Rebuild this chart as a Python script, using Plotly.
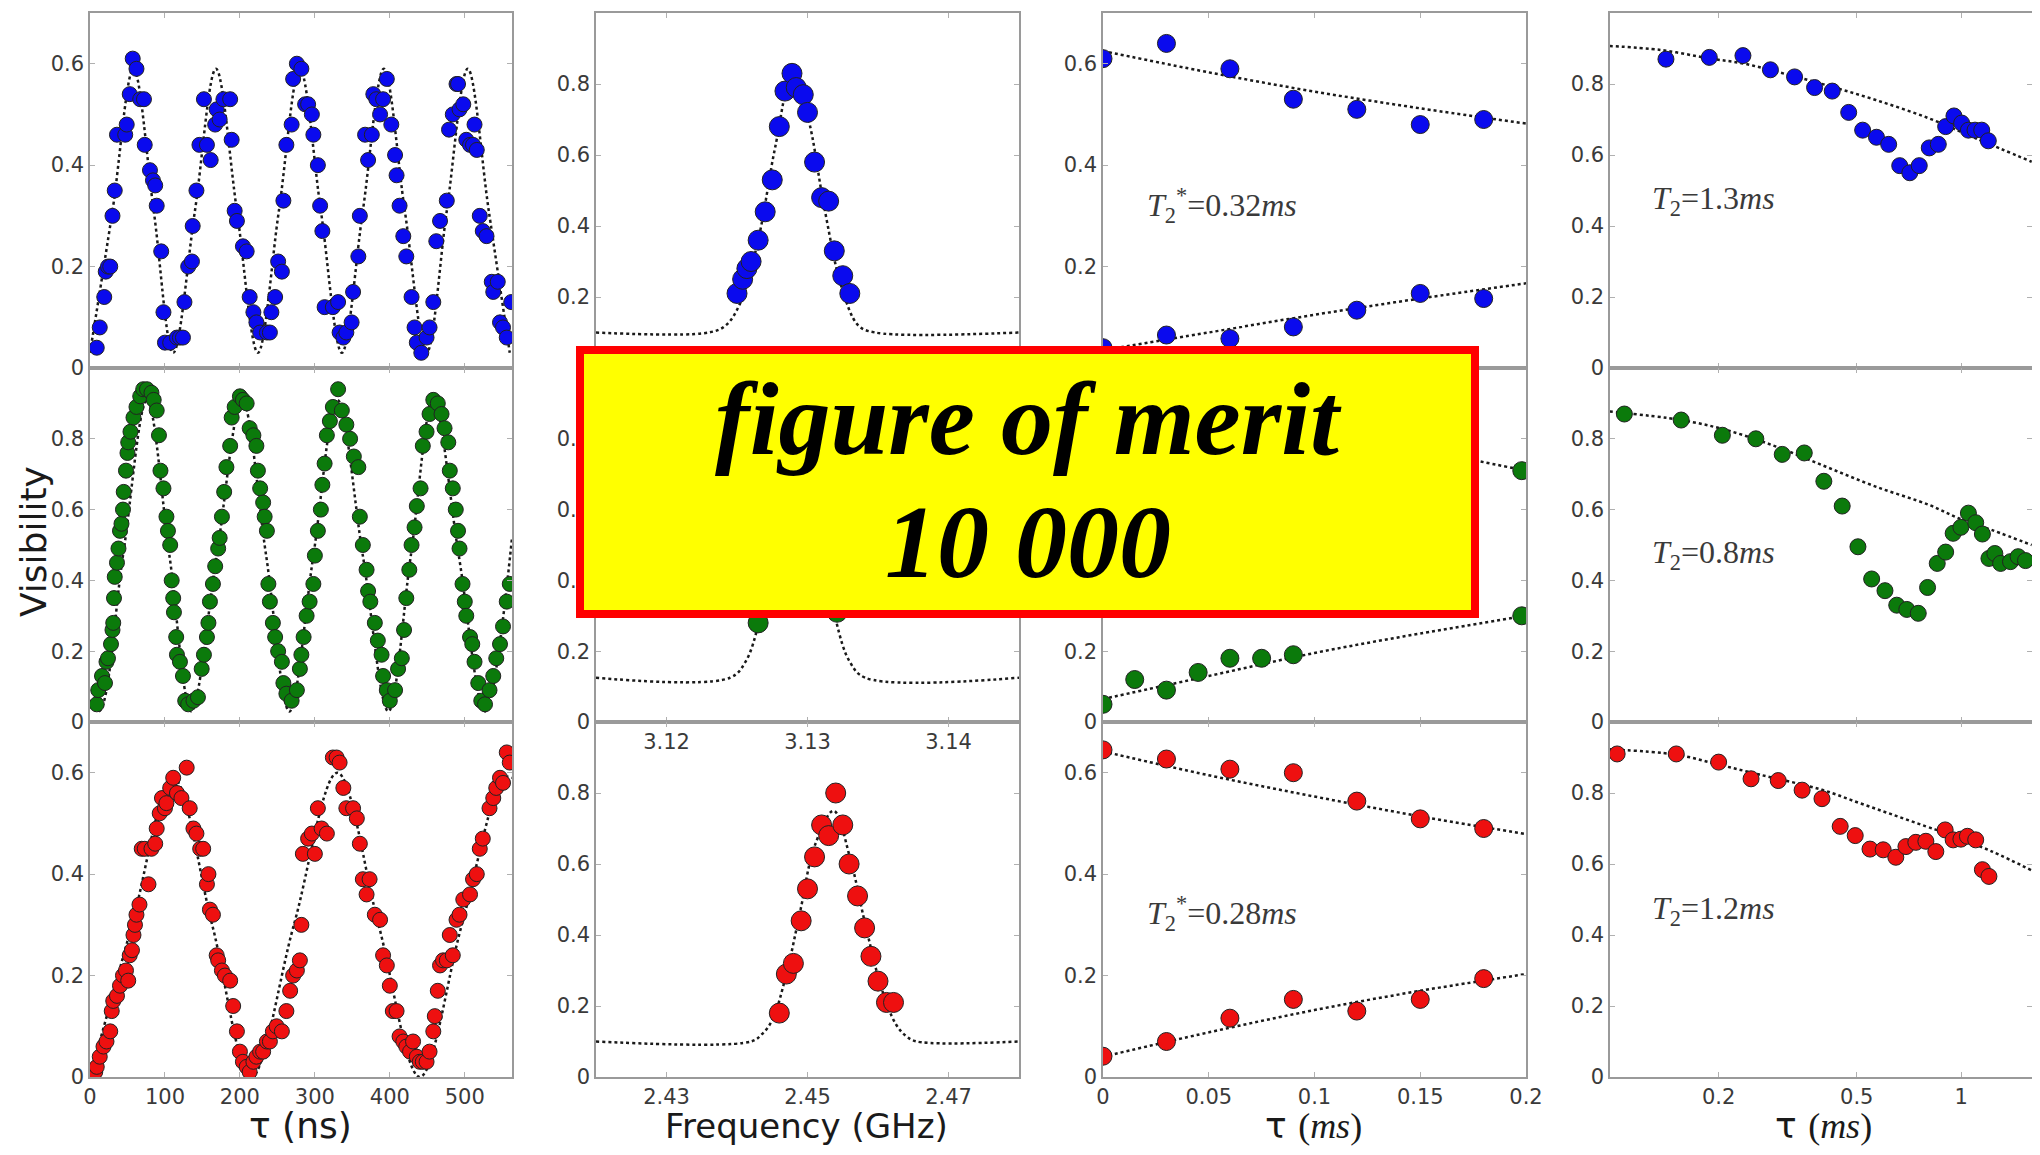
import plotly.graph_objects as go
from plotly.subplots import make_subplots

PAGE_W, PAGE_H = 2040, 1155
BODY = 8                      # default page margin around the figure div
FW, FH = PAGE_W - 2 * BODY, PAGE_H - 2 * BODY

def clamp(v):
    return max(0.0, min(1.0, v))

def PX(px):
    return (px - BODY) / FW

def PY(py):
    return 1 - (py - BODY) / FH

# ---------------- column 1 : Rabi oscillations (tau in ns) ----------------
rabi_blue_t = [9,13,19,21,24,27,30,33,36,47,
               49,53,57,62,67,72,73,80,84,87,
               89,95,98,100,107,116,120,124,126,131,
               136,137,142,146,152,156,161,167,169,173,
               178,187,189,193,196,204,209,213,218,222,
               227,236,240,242,247,251,256,258,262,269,
               271,276,282,287,291,296,298,304,307,310,
               313,324,331,333,338,342,349,351,358,360,
               367,371,376,378,382,387,391,396,402,407,
               409,413,418,422,429,433,436,442,449,453,
               458,462,467,476,479,484,489,491,493,498,
               502,507,511,513,516,520,524,529,536,538,
               544,547,551,556,562]
rabi_blue_v = [0.04,0.08,0.14,0.19,0.20,0.20,0.30,0.35,0.46,0.46,
               0.48,0.54,0.61,0.59,0.53,0.53,0.44,0.39,0.37,0.36,
               0.32,0.23,0.11,0.05,0.05,0.06,0.06,0.06,0.13,0.20,
               0.21,0.28,0.35,0.44,0.53,0.44,0.41,0.48,0.51,0.49,
               0.53,0.53,0.45,0.31,0.29,0.24,0.23,0.14,0.11,0.09,
               0.07,0.07,0.07,0.11,0.14,0.21,0.19,0.33,0.44,0.48,
               0.57,0.60,0.59,0.52,0.52,0.50,0.46,0.40,0.32,0.27,
               0.12,0.12,0.13,0.07,0.06,0.07,0.09,0.15,0.22,0.30,
               0.46,0.41,0.46,0.54,0.53,0.50,0.53,0.57,0.48,0.42,
               0.38,0.32,0.26,0.22,0.14,0.08,0.05,0.03,0.06,0.08,
               0.13,0.25,0.29,0.33,0.47,0.50,0.56,0.56,0.51,0.52,
               0.45,0.44,0.44,0.48,0.43,0.30,0.27,0.26,0.17,0.15,
               0.17,0.09,0.08,0.06,0.13]
rabi_blue_fit_t = [0,30,58,85,111,140,168,196,224,252,280,308,336,364,392,420,449,476,504,532,560]
rabi_blue_fit_v = [0.03,0.31,0.59,0.31,0.03,0.31,0.59,0.31,0.03,0.31,0.59,0.31,0.03,0.31,0.59,0.31,0.03,0.31,0.59,0.31,0.03]

rabi_green_t = [9,11,16,20,22,24,28,30,31,32,
                33,36,38,40,42,44,45,48,50,51,
                54,58,62,67,71,76,82,85,89,92,
                94,98,102,104,107,109,111,112,115,116,
                120,124,127,131,138,144,149,152,156,158,
                160,164,167,171,173,176,179,182,187,189,
                193,200,204,209,213,218,222,224,227,231,
                233,236,238,240,244,247,251,256,258,262,
                269,276,280,282,285,289,293,298,300,304,
                308,310,313,316,320,324,331,336,342,347,
                352,358,360,364,369,371,374,380,384,389,
                391,396,400,407,411,416,419,422,426,429,
                433,436,441,444,449,453,458,464,469,473,
                478,480,484,488,491,493,497,500,502,507,
                510,513,518,522,527,533,538,542,547,551,
                556,560]
rabi_green_v = [0.05,0.09,0.13,0.11,0.17,0.18,0.22,0.26,0.28,0.35,
                0.41,0.45,0.49,0.54,0.56,0.60,0.65,0.71,0.76,0.79,
                0.82,0.86,0.89,0.92,0.94,0.94,0.93,0.91,0.88,0.81,
                0.71,0.66,0.58,0.54,0.50,0.40,0.35,0.31,0.24,0.19,
                0.17,0.13,0.06,0.05,0.06,0.07,0.15,0.19,0.24,0.28,
                0.34,0.39,0.44,0.49,0.52,0.58,0.65,0.72,0.78,0.86,
                0.89,0.92,0.91,0.90,0.83,0.81,0.78,0.71,0.66,0.62,
                0.58,0.54,0.39,0.34,0.28,0.24,0.20,0.17,0.11,0.08,
                0.06,0.09,0.15,0.19,0.24,0.30,0.34,0.39,0.47,0.54,
                0.60,0.67,0.73,0.81,0.85,0.89,0.94,0.88,0.84,0.80,
                0.75,0.72,0.58,0.50,0.43,0.37,0.34,0.28,0.23,0.19,
                0.13,0.09,0.06,0.09,0.15,0.18,0.26,0.35,0.43,0.50,
                0.55,0.61,0.66,0.78,0.82,0.87,0.91,0.90,0.87,0.83,
                0.79,0.71,0.66,0.60,0.54,0.49,0.39,0.34,0.30,0.24,
                0.22,0.17,0.11,0.06,0.05,0.09,0.13,0.18,0.22,0.27,
                0.34,0.39]
rabi_green_fit_t = [0,12,44,76,106,135,169,203,235,266,298,330,364,398,428,458,492,527,563]
rabi_green_fit_v = [0.05,0.03,0.47,0.91,0.47,0.03,0.47,0.91,0.47,0.03,0.47,0.91,0.47,0.03,0.47,0.91,0.47,0.03,0.52]

rabi_red_t = [2,7,9,13,18,22,27,29,31,36,
              40,44,48,51,53,56,58,60,62,66,
              69,73,78,82,87,89,93,96,100,102,
              107,111,116,122,129,133,138,142,147,151,
              156,158,160,164,169,171,176,180,187,191,
              196,200,204,209,213,218,222,227,231,236,
              240,244,249,256,262,267,271,276,280,282,
              284,291,296,300,304,309,316,324,329,333,
              338,342,351,356,360,364,369,373,380,387,
              391,396,400,404,409,413,418,422,427,431,
              436,440,444,449,453,458,460,464,467,471,
              476,480,484,489,493,498,507,511,516,520,
              524,533,538,542,547,551,556,560]
rabi_red_v = [0.01,0.01,0.02,0.04,0.06,0.07,0.09,0.13,0.15,0.16,
              0.18,0.20,0.21,0.19,0.24,0.25,0.28,0.30,0.32,0.34,
              0.45,0.45,0.38,0.45,0.46,0.49,0.52,0.55,0.53,0.54,
              0.57,0.59,0.56,0.55,0.61,0.53,0.49,0.48,0.45,0.45,
              0.38,0.40,0.33,0.32,0.24,0.23,0.21,0.20,0.19,0.14,
              0.09,0.05,0.03,0.02,0.01,0.03,0.04,0.05,0.05,0.07,
              0.07,0.09,0.10,0.09,0.13,0.17,0.20,0.21,0.23,0.30,
              0.44,0.47,0.48,0.44,0.53,0.49,0.48,0.63,0.63,0.62,
              0.57,0.53,0.53,0.51,0.46,0.39,0.36,0.39,0.32,0.31,
              0.24,0.22,0.18,0.13,0.13,0.08,0.07,0.06,0.05,0.07,
              0.04,0.03,0.03,0.03,0.05,0.09,0.12,0.17,0.22,0.23,
              0.23,0.28,0.24,0.31,0.32,0.35,0.36,0.39,0.40,0.45,
              0.47,0.53,0.55,0.57,0.59,0.58,0.64,0.62]
rabi_red_fit_t = [0,56,111,163,215,272,330,385,440,496,552,563]
rabi_red_fit_v = [0.0,0.30,0.59,0.30,0.0,0.30,0.60,0.30,0.0,0.30,0.59,0.59]

# ---------------- column 2 : ODMR spectra (GHz) ----------------
odmr_blue_f = [2.8650,2.8654,2.8657,2.8660,2.8665,2.8670,2.8675,2.8680,2.8684,2.8689,
               2.8692,2.8697,2.8700,2.8705,2.8710,2.8715,2.8719,2.8725,2.8730]
odmr_blue_v = [0.21,0.25,0.28,0.30,0.36,0.44,0.53,0.68,0.78,0.83,
               0.79,0.77,0.72,0.58,0.48,0.47,0.33,0.26,0.21]
odmr_blue_fit_f = [2.8550,2.8630,2.8642,2.8652,2.8665,2.8677,2.8689,2.8700,2.8712,2.8724,2.8736,2.8748,2.8850]
odmr_blue_fit_v = [0.10,0.10,0.12,0.18,0.36,0.62,0.82,0.71,0.45,0.23,0.12,0.10,0.10]

odmr_green_f = [3.1265,3.1272,3.1278,3.1284,3.1289,3.1294,3.1299,3.1304,3.1310,3.1316,3.1321]
odmr_green_v = [0.28,0.42,0.57,0.71,0.82,0.85,0.80,0.66,0.52,0.40,0.31]
odmr_green_fit_f = [3.1150,3.1245,3.1256,3.1266,3.1280,3.1293,3.1306,3.1320,3.1330,3.1341,3.1450]
odmr_green_fit_v = [0.125,0.125,0.17,0.29,0.62,0.85,0.62,0.29,0.17,0.125,0.125]

odmr_red_f = [2.4460,2.4470,2.4480,2.4491,2.4500,2.4510,2.4520,2.4530,2.4540,2.4550,
              2.4559,2.4571,2.4581,2.4590,2.4600,2.4612,2.4622]
odmr_red_v = [0.18,0.29,0.32,0.44,0.53,0.62,0.71,0.68,0.80,0.71,
              0.60,0.51,0.42,0.34,0.27,0.21,0.21]
odmr_red_fit_f = [2.4200,2.4420,2.4435,2.4450,2.4470,2.4490,2.4510,2.4537,2.4560,2.4582,2.4605,2.4625,2.4640,2.4655,2.4800]
odmr_red_fit_v = [0.10,0.10,0.12,0.16,0.29,0.47,0.65,0.75,0.62,0.43,0.25,0.15,0.115,0.10,0.10]

# ---------------- column 3 : Ramsey (tau in ms) ----------------
ramsey_t = [0,0.03,0.06,0.09,0.12,0.15,0.18]
ramsey_blue_up = [0.61,0.64,0.59,0.53,0.51,0.48,0.49]
ramsey_blue_lo = [0.04,0.065,0.058,0.081,0.114,0.147,0.137]
ramsey_red_up = [0.645,0.627,0.607,0.60,0.544,0.509,0.49]
ramsey_red_lo = [0.041,0.07,0.116,0.153,0.13,0.153,0.194]
ramsey_green_t = [0,0.015,0.03,0.045,0.06,0.075,0.09,0.198]
ramsey_green_up = [0.93,0.88,0.90,0.85,0.83,0.84,0.80,0.71]
ramsey_green_lo = [0.05,0.12,0.09,0.14,0.18,0.18,0.19,0.30]
ramsey_fit_t = [0,0.05,0.1,0.15,0.2]
ramsey_blue_fit_up = [0.625,0.583,0.545,0.512,0.482]
ramsey_blue_fit_lo = [0.035,0.07,0.105,0.137,0.167]
ramsey_green_fit_up = [0.93,0.88,0.83,0.77,0.71]
ramsey_green_fit_lo = [0.065,0.13,0.195,0.25,0.30]
ramsey_red_fit_up = [0.642,0.595,0.553,0.514,0.479]
ramsey_red_fit_lo = [0.04,0.088,0.132,0.17,0.203]

# ---------------- column 4 : Hahn echo (tau in ms, log) ----------------
echo_blue_t = [0.141,0.188,0.235,0.282,0.331,0.378,0.425,0.474,0.520,0.570,0.618,0.665,
               0.711,0.757,0.809,0.859,0.902,0.953,1.003,1.049,1.096,1.146,1.197]
echo_blue_v = [0.87,0.875,0.88,0.84,0.82,0.79,0.78,0.72,0.67,0.65,0.63,0.57,
               0.55,0.57,0.62,0.63,0.68,0.71,0.69,0.67,0.67,0.67,0.64]
echo_blue_fit_t = [0.097,0.136,0.188,0.235,0.293,0.408,0.567,0.809,1.101,1.596]
echo_blue_fit_v = [0.907,0.896,0.872,0.858,0.835,0.797,0.755,0.703,0.647,0.581]

echo_green_t = [0.107,0.156,0.205,0.256,0.305,0.353,0.402,0.454,0.504,0.552,0.603,0.652,0.697,0.752,
                0.800,0.853,0.902,0.948,0.998,1.049,1.101,1.151,1.202,1.250,1.299,1.387,1.459,1.532]
echo_green_v = [0.87,0.853,0.81,0.80,0.756,0.76,0.68,0.61,0.495,0.404,0.371,0.33,0.318,0.307,
                0.38,0.448,0.48,0.533,0.55,0.59,0.563,0.531,0.462,0.476,0.448,0.453,0.467,0.456]
echo_green_fit_t = [0.097,0.156,0.210,0.293,0.408,0.567,0.809,0.986,1.228,1.596]
echo_green_fit_v = [0.877,0.853,0.825,0.778,0.721,0.665,0.613,0.575,0.542,0.50]

echo_red_t = [0.102,0.151,0.200,0.248,0.297,0.348,0.397,0.448,0.495,0.546,0.596,0.648,
              0.693,0.740,0.791,0.845,0.899,0.948,0.998,1.042,1.101,1.151,1.202]
echo_red_v = [0.91,0.91,0.887,0.84,0.835,0.808,0.784,0.706,0.68,0.642,0.64,0.619,
              0.649,0.661,0.664,0.635,0.696,0.668,0.67,0.678,0.668,0.584,0.565]
echo_red_fit_t = [0.097,0.151,0.200,0.262,0.397,0.508,0.634,0.791,0.902,1.228,1.596]
echo_red_fit_v = [0.923,0.908,0.880,0.852,0.809,0.772,0.739,0.706,0.687,0.635,0.582]

# ---------------- labels ----------------
y_tick_short = [0, 0.2, 0.4, 0.6]
y_tick_long = [0, 0.2, 0.4, 0.6, 0.8]
ns_ticks = [0, 100, 200, 300, 400, 500]
ms_ticks = [0, 0.05, 0.1, 0.15, 0.2]
ms_ticktext = ["0", "0.05", "0.1", "0.15", "0.2"]
echo_ticks = [0.2, 0.5, 1]
f_ticks_mid = [3.12, 3.13, 3.14]
f_ticks_bot = [2.43, 2.45, 2.47]
t2_labels = ["0.32", "0.28"]
echo_labels = ["1.3", "0.8", "1.2"]
box_lines = ["figure of merit", "10 000"]

BLUE, GREEN, RED = "#0a0aee", "#0b7a0b", "#ee1010"
FIT = "#1a1a1a"

col_px = [(90, 512), (596, 1019), (1103, 1526), (1610, 2032)]
row_px = [(13, 368), (368, 722), (722, 1077)]

fig = make_subplots(rows=3, cols=4)

tickfont = dict(family="DejaVu Sans", size=21, color="#3a3a3a")
for r in range(3):
    for c in range(4):
        n = r * 4 + c + 1
        sx = "" if n == 1 else str(n)
        x0, x1 = col_px[c]
        y0, y1 = row_px[r]
        fig.layout["xaxis" + sx].update(domain=[clamp(PX(x0)), clamp(PX(x1))])
        fig.layout["yaxis" + sx].update(domain=[clamp(PY(y1)), clamp(PY(y0))])

axis_common = dict(showgrid=False, zeroline=False, showline=True, mirror="ticks",
                   linecolor="#9a9a9a", linewidth=1.5, ticks="inside", ticklen=5,
                   tickcolor="#b0b0b0", tickfont=tickfont, automargin=False)
fig.update_xaxes(**axis_common)
fig.update_yaxes(**axis_common)

def ms(size, color, line="#222"):
    return dict(size=size, color=color, line=dict(color=line, width=1))

def dots(x, y, color, size, r, c):
    fig.add_trace(go.Scatter(x=x, y=y, mode="markers", marker=ms(size, color),
                             showlegend=False, hoverinfo="skip"), row=r, col=c)

def fit(x, y, r, c):
    fig.add_trace(go.Scatter(x=x, y=y, mode="lines",
                             line=dict(color=FIT, width=2.5, dash="dot", shape="spline", smoothing=1.0),
                             showlegend=False, hoverinfo="skip"), row=r, col=c)

# column 1
fit(rabi_blue_fit_t, rabi_blue_fit_v, 1, 1)
dots(rabi_blue_t, rabi_blue_v, BLUE, 15, 1, 1)
fit(rabi_green_fit_t, rabi_green_fit_v, 2, 1)
dots(rabi_green_t, rabi_green_v, GREEN, 15, 2, 1)
fit(rabi_red_fit_t, rabi_red_fit_v, 3, 1)
dots(rabi_red_t, rabi_red_v, RED, 15, 3, 1)
# column 2
fit(odmr_blue_fit_f, odmr_blue_fit_v, 1, 2)
dots(odmr_blue_f, odmr_blue_v, BLUE, 20, 1, 2)
fit(odmr_green_fit_f, odmr_green_fit_v, 2, 2)
dots(odmr_green_f, odmr_green_v, GREEN, 20, 2, 2)
fit(odmr_red_fit_f, odmr_red_fit_v, 3, 2)
dots(odmr_red_f, odmr_red_v, RED, 20, 3, 2)
# column 3
for up, lo, fu, fl, col, r, tx in [
        (ramsey_blue_up, ramsey_blue_lo, ramsey_blue_fit_up, ramsey_blue_fit_lo, BLUE, 1, ramsey_t),
        (ramsey_green_up, ramsey_green_lo, ramsey_green_fit_up, ramsey_green_fit_lo, GREEN, 2, ramsey_green_t),
        (ramsey_red_up, ramsey_red_lo, ramsey_red_fit_up, ramsey_red_fit_lo, RED, 3, ramsey_t)]:
    fit(ramsey_fit_t, fu, r, 3)
    fit(ramsey_fit_t, fl, r, 3)
    dots(tx, up, col, 18, r, 3)
    dots(tx, lo, col, 18, r, 3)
# column 4
fit(echo_blue_fit_t, echo_blue_fit_v, 1, 4)
dots(echo_blue_t, echo_blue_v, BLUE, 16, 1, 4)
fit(echo_green_fit_t, echo_green_fit_v, 2, 4)
dots(echo_green_t, echo_green_v, GREEN, 16, 2, 4)
fit(echo_red_fit_t, echo_red_fit_v, 3, 4)
dots(echo_red_t, echo_red_v, RED, 16, 3, 4)

# axis ranges and ticks
for r in (1, 2, 3):
    last = (r == 3)
    fig.update_xaxes(range=[0, 563], tickvals=ns_ticks, showticklabels=last, row=r, col=1)
    fig.update_xaxes(range=[0, 0.2], tickvals=ms_ticks, ticktext=ms_ticktext, showticklabels=last, row=r, col=3)
    fig.update_xaxes(type="log", range=[-1.012, 0.204], tickvals=echo_ticks,
                     ticktext=["0.2", "0.5", "1"], showticklabels=last, row=r, col=4)
fig.update_xaxes(range=[2.855, 2.885], tickvals=[2.86, 2.87, 2.88], showticklabels=False, row=1, col=2)
fig.update_xaxes(range=[3.115, 3.145], tickvals=f_ticks_mid, ticktext=["3.12", "3.13", "3.14"], row=2, col=2)
fig.update_xaxes(range=[2.42, 2.48], tickvals=f_ticks_bot, ticktext=["2.43", "2.45", "2.47"], row=3, col=2)

for c in (1, 3):
    fig.update_yaxes(range=[0, 0.7], tickvals=y_tick_short, ticktext=["0", "0.2", "0.4", "0.6"], row=1, col=c)
    fig.update_yaxes(range=[0, 1.0], tickvals=y_tick_long, ticktext=["0", "0.2", "0.4", "0.6", "0.8"], row=2, col=c)
    fig.update_yaxes(range=[0, 0.7], tickvals=y_tick_short, ticktext=["0", "0.2", "0.4", "0.6"], row=3, col=c)
for r in (1, 2, 3):
    fig.update_yaxes(range=[0, 1.0], tickvals=y_tick_long, ticktext=["0", "0.2", "0.4", "0.6", "0.8"], row=r, col=4)
fig.update_yaxes(range=[0, 1.0], tickvals=y_tick_long + [1], ticktext=["0", "0.2", "0.4", "0.6", "0.8", "1"], row=1, col=2)
fig.update_yaxes(range=[0, 1.0], tickvals=y_tick_long, ticktext=["0", "0.2", "0.4", "0.6", "0.8"], row=2, col=2)
fig.update_yaxes(range=[0, 1.0], tickvals=y_tick_long, ticktext=["0", "0.2", "0.4", "0.6", "0.8"], row=3, col=2)

annotations = []
serif = "Liberation Serif"
# T2* labels (column 3)
for (lab, ax, y) in [(t2_labels[0], 3, 0.321), (t2_labels[1], 11, 0.323)]:
    annotations.append(dict(xref="x%d" % ax, yref="y%d" % ax, x=0.0199, y=y, xanchor="left", yanchor="middle",
                            showarrow=False, font=dict(family=serif, size=32, color="#3a3a3a"),
                            text="<i>T</i><sub>2</sub><sup>*</sup>=%s<i>ms</i>" % lab))
for (lab, ax, y) in [(echo_labels[0], 4, 0.473), (echo_labels[1], 8, 0.472), (echo_labels[2], 12, 0.47)]:
    annotations.append(dict(xref="x%d" % ax, yref="y%d" % ax, x=-0.897, y=y, xanchor="left", yanchor="middle",
                            showarrow=False, font=dict(family=serif, size=32, color="#3a3a3a"),
                            text="<i>T</i><sub>2</sub>=%s<i>ms</i>" % lab))

title_font = dict(family="DejaVu Sans", size=36, color="#1a1a1a")
def paper_text(px, py, text, font, angle=0):
    annotations.append(dict(xref="paper", yref="paper", x=PX(px), y=PY(py), xanchor="center", yanchor="middle",
                            textangle=angle, showarrow=False, font=font, text=text, borderpad=0))

paper_text(33, 542, "Visibility", title_font, -90)
paper_text(300, 1125, "τ (ns)", title_font)
paper_text(806, 1126, "Frequency (GHz)", dict(family="DejaVu Sans", size=34, color="#1a1a1a"))
for xc in (1313, 1823):
    paper_text(xc, 1125, "τ <span style=\"font-family:'Liberation Serif'\">(<i>ms</i>)</span>", title_font)

# overlay box text
box_font = dict(family=serif, size=104, color="#000000")
paper_text(1028, 418, "<b><i>%s</i></b>" % box_lines[0], box_font)
paper_text(1028, 541, "<b><i>%s</i></b>" % box_lines[1], box_font)

fig.update_layout(
    width=FW, height=FH,
    margin=dict(l=0, r=0, t=0, b=0, pad=0, autoexpand=False),
    paper_bgcolor="white", plot_bgcolor="white",
    annotations=annotations,
    shapes=[dict(type="rect", xref="paper", yref="paper", layer="above",
                 x0=PX(580), x1=PX(1475), y0=PY(614), y1=PY(350),
                 fillcolor="#ffff00", line=dict(color="#ff0000", width=8))],
)

fig.write_html("out.html", config={"displayModeBar": False})
